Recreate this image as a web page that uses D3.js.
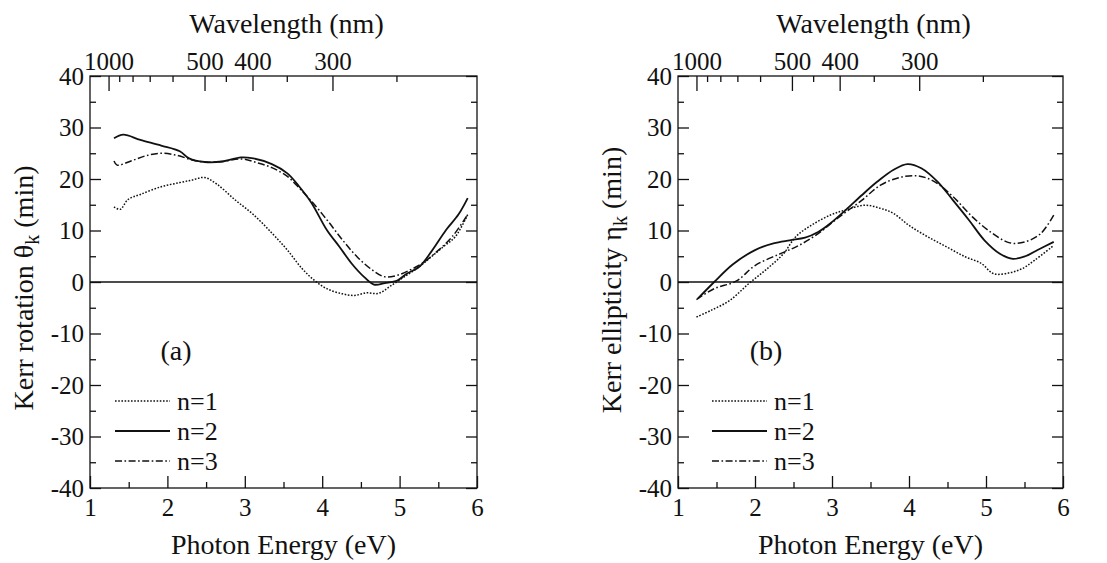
<!DOCTYPE html>
<html><head><meta charset="utf-8">
<script src="https://cdn.jsdelivr.net/npm/d3@7"></script>
</head>
<body style="margin:0"><svg id="c" width="1107" height="563" font-family="Liberation Serif"></svg>
<script>
// ---- Data ----
const rotN1 = [[1.31,14.6],[1.39,14.1],[1.49,16.0],[1.65,17.0],[1.92,18.5],[2.16,19.3],[2.32,19.8],[2.48,20.3],[2.64,19.0],[2.87,16.0],[3.11,13.1],[3.35,9.5],[3.55,6.2],[3.74,2.6],[3.90,0.3],[4.06,-1.3],[4.26,-2.3],[4.42,-2.6],[4.57,-2.1],[4.73,-2.2],[4.89,-0.7],[5.09,1.3],[5.25,2.9],[5.41,4.9],[5.57,6.9],[5.72,8.8],[5.88,13.1]];
const rotN2 = [[1.31,27.9],[1.43,28.6],[1.65,27.6],[1.92,26.5],[2.16,25.4],[2.28,24.0],[2.48,23.3],[2.71,23.4],[2.95,24.2],[3.11,24.0],[3.35,22.9],[3.55,21.1],[3.70,18.6],[3.86,15.4],[4.06,10.1],[4.22,6.9],[4.38,3.6],[4.54,1.0],[4.67,-0.5],[4.81,-0.2],[4.97,0.3],[5.09,1.6],[5.25,2.9],[5.41,5.9],[5.60,10.1],[5.76,13.1],[5.88,16.3]];
const rotN3 = [[1.31,23.5],[1.35,22.7],[1.53,23.5],[1.72,24.5],[1.92,25.0],[2.12,24.6],[2.32,23.7],[2.48,23.3],[2.71,23.4],[2.95,23.9],[3.15,23.2],[3.35,22.2],[3.55,20.5],[3.70,18.3],[3.86,15.7],[4.06,12.1],[4.26,8.2],[4.45,4.9],[4.65,2.3],[4.81,1.0],[4.97,1.3],[5.13,2.3],[5.29,3.6],[5.48,5.9],[5.68,8.8],[5.88,13.1]];

const ellN1 = [[1.24,-6.8],[1.43,-5.5],[1.67,-3.6],[1.92,-0.3],[2.16,2.6],[2.37,5.5],[2.53,8.8],[2.73,11.0],[2.98,13.0],[3.18,14.0],[3.43,14.9],[3.63,14.3],[3.80,13.3],[4.00,11.0],[4.24,8.8],[4.49,6.8],[4.73,4.9],[4.94,3.6],[5.10,1.6],[5.31,1.8],[5.47,2.6],[5.63,4.2],[5.88,7.1]];
const ellN2 = [[1.26,-3.2],[1.47,0.0],[1.71,3.4],[2.00,6.2],[2.24,7.5],[2.45,8.1],[2.65,8.6],[2.82,9.7],[2.98,11.4],[3.18,14.0],[3.39,16.9],[3.59,19.5],[3.80,21.8],[3.98,22.9],[4.16,22.1],[4.37,19.5],[4.57,15.9],[4.78,12.0],[4.98,8.1],[5.18,5.5],[5.35,4.5],[5.51,5.0],[5.67,6.2],[5.88,7.8]];
const ellN3 = [[1.24,-3.4],[1.47,-1.3],[1.76,0.2],[2.00,3.2],[2.33,5.5],[2.57,7.1],[2.82,9.4],[3.10,12.7],[3.39,15.9],[3.63,18.8],[3.88,20.3],[4.12,20.6],[4.33,19.5],[4.57,16.6],[4.82,12.7],[5.06,9.7],[5.31,7.6],[5.51,7.8],[5.71,9.4],[5.88,13.0]];

const seriesNames = ["n=1","n=2","n=3"];
const energyTicks = [1,2,3,4,5,6];
const energyMinor = [1.5,2.5,3.5,4.5,5.5];
const yTicks = [-40,-30,-20,-10,0,10,20,30,40];
const yMinor = [-35,-25,-15,-5,5,15,25,35];
const wlMajor = [1000,500,400,300];
const wlMinor = [900,800,700,600,450,350,250];

const FONT = "Liberation Serif";
const panels = [
  {x0:90, x1:477, label:"(a)", labDx:86, legDx:25, titleDy:6, yTitle:["Kerr rotation ","θ","k"," (min)"], data:[rotN1,rotN2,rotN3]},
  {x0:678, x1:1063, label:"(b)", labDx:88, legDx:34, titleDy:-2, yTitle:["Kerr ellipticity ","η","k"," (min)"], data:[ellN1,ellN2,ellN3]}
];
const dashes = ["1.6,1.6", null, "7,2.5,1.6,2.5"];
const fmt = d => String(d);

const svg = d3.select("#c");
const yTop = 76, yBot = 488;

panels.forEach(p => {
  const x = d3.scaleLinear().domain([1,6]).range([p.x0,p.x1]);
  const y = d3.scaleLinear().domain([-40,40]).range([yBot,yTop]);
  const g = svg.append("g");

  g.append("rect").attr("x",p.x0).attr("y",yTop).attr("width",p.x1-p.x0).attr("height",yBot-yTop)
    .attr("fill","none").attr("stroke","#111").attr("stroke-width",1.3);

  const axes = [];
  const mk = (tr, ax) => { const a = g.append("g").attr("transform",tr).call(ax); a.select(".domain").remove(); axes.push(a); return a; };
  mk(`translate(0,${yBot})`, d3.axisBottom(x).tickValues(energyTicks).tickSize(-12).tickPadding(10).tickFormat(fmt));
  mk(`translate(0,${yBot})`, d3.axisBottom(x).tickValues(energyMinor).tickSize(-6).tickFormat(""));
  mk(`translate(${p.x0},0)`, d3.axisLeft(y).tickValues(yTicks).tickSize(-11).tickPadding(6).tickFormat(fmt));
  mk(`translate(${p.x0},0)`, d3.axisLeft(y).tickValues(yMinor).tickSize(-6).tickFormat(""));
  mk(`translate(${p.x1},0)`, d3.axisRight(y).tickValues(yTicks).tickSize(-11).tickFormat(""));
  mk(`translate(${p.x1},0)`, d3.axisRight(y).tickValues(yMinor).tickSize(-6).tickFormat(""));
  mk(`translate(0,${yTop})`, d3.axisTop(x).tickValues(wlMajor.map(l=>1239.8/l)).tickSize(-15).tickPadding(6).tickFormat((d,i)=>wlMajor[i]));
  mk(`translate(0,${yTop})`, d3.axisTop(x).tickValues(wlMinor.map(l=>1239.8/l)).tickSize(-6).tickFormat(""));
  axes.forEach(a => {
    a.attr("font-family", FONT).attr("font-size", 25);
    a.selectAll("line").attr("stroke","#111").attr("stroke-width",1.3);
    a.selectAll("text").attr("font-family", FONT).attr("font-size", 25).attr("fill","#111");
  });

  g.append("line").attr("x1",p.x0).attr("x2",p.x1).attr("y1",y(0)).attr("y2",y(0))
    .attr("stroke","#111").attr("stroke-width",1.3);

  const line = d3.line().x(d=>x(d[0])).y(d=>y(d[1])).curve(d3.curveCatmullRom.alpha(0.5));
  p.data.forEach((s,i) => {
    g.append("path").datum(s).attr("d",line).attr("fill","none").attr("stroke","#111")
      .attr("stroke-width", i===1?1.8:1.5).attr("stroke-dasharray",dashes[i]);
  });

  const cx = (p.x0+p.x1)/2;
  const txt = (x0,y0,size,anchor) => g.append("text").attr("x",x0).attr("y",y0).attr("text-anchor",anchor)
      .attr("font-family",FONT).attr("font-size",size).attr("fill","#111");
  txt(cx+3,33,28,"middle").text("Wavelength (nm)");
  txt(cx,554,28,"middle").text("Photon Energy (eV)");
  const yt = g.append("text").attr("transform",`translate(${p.x0-57},${(yTop+yBot)/2+p.titleDy}) rotate(-90)`)
    .attr("text-anchor","middle").attr("font-family",FONT).attr("font-size",28).attr("fill","#111");
  yt.append("tspan").text(p.yTitle[0]);
  yt.append("tspan").text(p.yTitle[1]);
  yt.append("tspan").attr("dy",6).attr("font-size",20).text(p.yTitle[2]);
  yt.append("tspan").attr("dy",-6).text(p.yTitle[3]);

  txt(p.x0+p.labDx,360,28,"middle").text(p.label);

  const lx0 = p.x0+p.legDx, lx1 = p.x0+p.legDx+55;
  seriesNames.forEach((nm,i) => {
    const ly = 401 + i*30;
    g.append("line").attr("x1",lx0).attr("x2",lx1).attr("y1",ly).attr("y2",ly)
      .attr("stroke","#111").attr("stroke-width", i===1?1.8:1.5).attr("stroke-dasharray",dashes[i]);
    txt(lx1+7,ly+9,26,"start").text(nm);
  });
});
</script></body></html>
